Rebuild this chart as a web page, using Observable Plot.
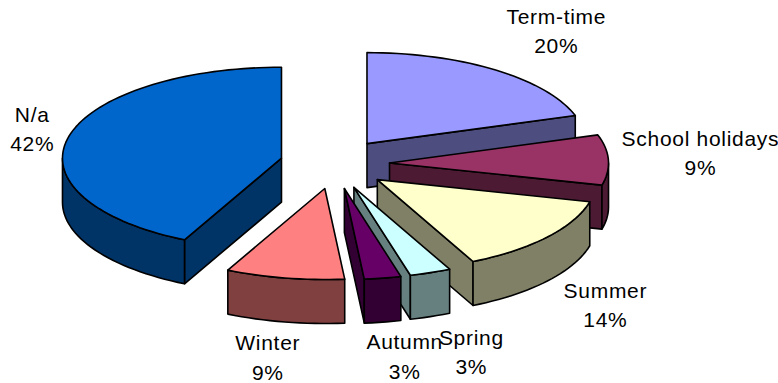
<!DOCTYPE html>
<html>
<head>
<meta charset="utf-8">
<style>html,body{margin:0;padding:0;background:#fff}svg{display:block}svg text{letter-spacing:0.7px}</style>
<script src="https://cdn.jsdelivr.net/npm/d3@7"></script>
<script src="https://cdn.jsdelivr.net/npm/@observablehq/plot@0.6"></script>
</head>
<body>
<div id="chart"></div>
<script>
// Data (slices clockwise from 12 o'clock)
const categories = ["Term-time", "School holidays", "Summer", "Spring", "Autumn", "Winter", "N/a"];
const shares = [20, 8.9, 13.9, 3.05, 2.7, 8.75, 42.7];
const percentLabels = ["20%", "9%", "14%", "3%", "3%", "9%", "42%"];
const topColors = ["#9999FF", "#993366", "#FFFFCC", "#CCFFFF", "#660066", "#FF8080", "#0066CC"];
const sideColors = ["#4D4D80", "#4D1A33", "#808066", "#668080", "#330033", "#804040", "#003366"];

// Layout of the tilted pie
const W = 778, H = 383;
const centerPx = [334.3, 163.4], radiusPx = [219, 91];
const explodeX = 0.25, explodeY = 0.275, depth = 44 / 91;
const labelNudges = [[60.6, -41], [92, -8.5], [58, 66], [41, 77.5], [22, 76.5], [-17, 77.5], [-36, -10.5]];
const drawOrder = [0, 1, 2, 3, 4, 5, 6];

const rad = d => d * Math.PI / 180;
let cum = 0;
const slices = categories.map((name, i) => {
  const t0 = cum / 100 * 360; cum += shares[i];
  const t1 = cum / 100 * 360;
  const m = rad((t0 + t1) / 2);
  return {name, i, t0, t1, ax: explodeX * Math.sin(m), ay: -explodeY * Math.cos(m), m};
});
const pt = (s, t, dz = 0) => ({x: s.ax + Math.sin(rad(t)), y: s.ay - Math.cos(rad(t)) + dz});
const arc = (s, a, b, dz = 0) => {
  const n = Math.max(2, Math.ceil((b - a) / 2));
  return d3.range(n + 1).map(k => pt(s, a + (b - a) * k / n, dz));
};
const apex = (s, dz = 0) => ({x: s.ax, y: s.ay + dz});

const face = (pts, fill) => Plot.line(pts, {
  x: "x", y: "y", curve: "linear-closed", fill, stroke: "#000",
  strokeWidth: 1.6, strokeLinejoin: "round"
});

const marks = [];
for (const i of drawOrder) {
  const s = slices[i];
  const side = sideColors[i];
  // cut face at the start edge, when it looks down
  if (Math.sin(rad(s.t0)) < -1e-6)
    marks.push(face([apex(s), pt(s, s.t0), pt(s, s.t0, depth), apex(s, depth)], side));
  // cut face at the end edge, when it looks down
  if (Math.sin(rad(s.t1)) > 1e-6)
    marks.push(face([apex(s), pt(s, s.t1), pt(s, s.t1, depth), apex(s, depth)], side));
  // rim, the part that looks down (90..270 degrees)
  const a = Math.max(s.t0, 90), b = Math.min(s.t1, 270);
  if (b > a)
    marks.push(face([...arc(s, a, b), ...arc(s, a, b, depth).reverse()], side));
  // top face
  marks.push(face([apex(s), ...arc(s, s.t0, s.t1)], topColors[i]));
}

const labels = slices.map(s => ({
  text: s.name + "\n" + percentLabels[s.i],
  x: s.ax + Math.sin(s.m),
  y: s.ay - Math.cos(s.m),
  nudge: labelNudges[s.i]
}));
for (const l of labels) {
  marks.push(Plot.text([l], {
    x: "x", y: "y", text: "text", dx: l.nudge[0], dy: l.nudge[1],
    fontFamily: "Liberation Sans, Arial, sans-serif", fontSize: 21,
    lineHeight: 29.4 / 21, fill: "#000", textAnchor: "middle"
  }));
}

const chart = Plot.plot({
  width: W, height: H, margin: 0,
  x: {axis: null, domain: [-centerPx[0] / radiusPx[0], (W - centerPx[0]) / radiusPx[0]], range: [0, W]},
  y: {axis: null, domain: [-centerPx[1] / radiusPx[1], (H - centerPx[1]) / radiusPx[1]], range: [0, H]},
  style: {background: "#fff", overflow: "visible"},
  marks
});
document.getElementById("chart").append(chart);
</script>
</body>
</html>
